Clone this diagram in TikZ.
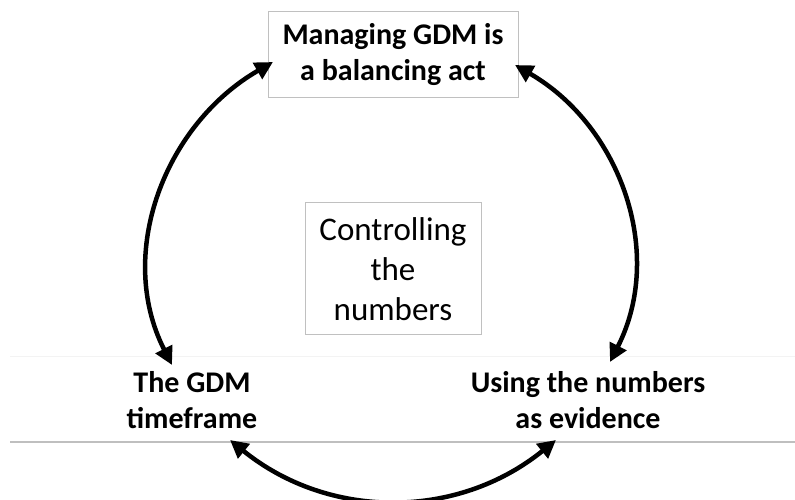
\documentclass[tikz,border=0pt]{standalone}
\usepackage{fontspec}
\setmainfont{Carlito}
\usetikzlibrary{arrows.meta}
\definecolor{boxgray}{HTML}{C0C0C0}
\definecolor{linegray}{HTML}{BFBFBF}
\definecolor{faintgray}{HTML}{F3F3F3}
\begin{document}
\begin{tikzpicture}[x=1pt,y=1pt,
  box/.style={draw=boxgray, line width=1pt, align=center, inner sep=0pt},
  lab/.style={align=center, inner sep=0pt, font=\fontsize{30}{36}\selectfont\bfseries},
  conn/.style={line width=4.5pt, {Triangle[length=18pt,width=18pt]}-{Triangle[length=18pt,width=18pt]}},
  ]
\useasboundingbox (0,0) rectangle (795,500);
\draw[faintgray, line width=1pt] (10,143) -- (795,143);
\draw[linegray, line width=1.2pt] (10,58) -- (795,58);
\node[box, lab, minimum width=250, minimum height=86] (top) at (393,445) {Managing GDM is\\a balancing act};
\node[box, font=\fontsize{33}{40}\selectfont, minimum width=176, minimum height=132] (mid) at (393,231) {Controlling\\the\\numbers};
\node[lab] (tf) at (192,100) {The GDM\\timeframe};
\node[lab] (ev) at (588,100) {Using the numbers\\as evidence};
\coordinate (topL) at (273,438);
\coordinate (topR) at (515,435);
\coordinate (tfT) at (172,135);
\coordinate (evT) at (610,138);
\coordinate (tfB) at (230,60);
\coordinate (evB) at (556,60);
\draw[conn] (topL) to[out=210,in=117] (tfT);
\draw[conn] (topR) to[out=330,in=63] (evT);
\draw[conn] (tfB) to[out=-39,in=219] (evB);
\end{tikzpicture}
\end{document}
